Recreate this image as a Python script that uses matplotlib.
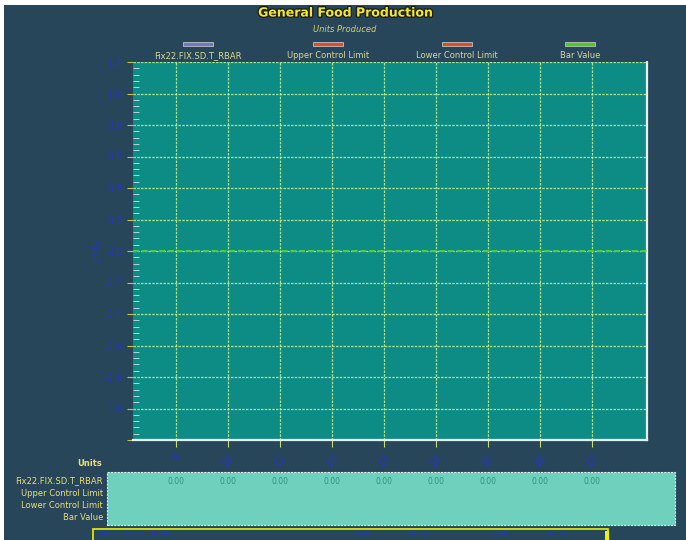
import matplotlib
matplotlib.use("Agg")
import matplotlib.pyplot as plt
from matplotlib.patches import Rectangle
import matplotlib.patheffects as pe

# ---- data ----
sample_labels = ["9", "10", "11", "12", "13", "14", "15", "16", "17"]
rbar_values = [0.00, 0.00, 0.00, 0.00, 0.00, 0.00, 0.00, 0.00, 0.00]
bar_center = 0.0
y_ticks = [1.2, 1.0, 0.8, 0.6, 0.4, 0.2, 0.0, -0.2, -0.4, -0.6, -0.8, -1.0, -1.2]
series_names = ["Fix22.FIX.SD.T_RBAR", "Upper Control Limit", "Lower Control Limit", "Bar Value"]
series_colors = ["#6f78c8", "#d8502a", "#d8502a", "#40d020"]

BG = "#27465a"
PLOT_BG = "#0d8c86"
TABLE_BG = "#6fd1bd"
YELLOW = "#e8e070"
BLUE = "#2438c0"

W, H = 686, 540
fig = plt.figure(figsize=(W / 100, H / 100), dpi=100, facecolor="white")

def fx(px):
    return px / W

def fy(py):
    return 1 - py / H

# dark background with thin white margin on top/left
fig.patches.append(Rectangle((fx(4), 0), 1 - fx(4), fy(5), transform=fig.transFigure,
                             facecolor=BG, edgecolor="none", zorder=-10))

ax = fig.add_axes([fx(133), fy(440), fx(647) - fx(133), fy(62) - fy(440)])
ax.set_facecolor(PLOT_BG)
x = list(range(1, len(sample_labels) + 1))
ax.set_xlim(0.17, 10.06)
ax.set_ylim(-1.2, 1.2)

ax.set_yticks(y_ticks)
ax.set_yticklabels(["" if v == -1.2 else f"{v:.1f}" for v in y_ticks])
ax.set_yticks([v / 100 for v in range(-120, 121, 4)], minor=True)
ax.set_xticks(x)
ax.set_xticklabels(sample_labels, rotation=45)
ax.tick_params(axis="y", which="major", colors="#c8c040", labelcolor=BLUE, labelsize=7,
               length=4, direction="out")
ax.tick_params(axis="y", which="minor", colors="#c8e8e0", length=4, direction="in")
ax.tick_params(axis="x", colors="#c8e070", labelcolor=BLUE, labelsize=7, length=5, pad=4)

ax.grid(True, which="major", color="#c8f090", linestyle=(0, (2, 1)), linewidth=0.9, alpha=0.85)
for s in ["left", "top"]:
    ax.spines[s].set_visible(False)
for s in ["right", "bottom"]:
    ax.spines[s].set_color("#e8f0f0")
    ax.spines[s].set_linestyle((0, (2, 1)))
    ax.spines[s].set_linewidth(1.6)

# bar value centre line
ax.axhline(bar_center, color="#50d030", linestyle=(0, (3, 1.5)), linewidth=1.4, zorder=3)
ax.set_ylabel("Units", color=BLUE, fontsize=7, labelpad=2)

# title
sh = [pe.withStroke(linewidth=2, foreground="#202020")]
fig.text(fx(345), fy(13), "General Food Production", ha="center", va="center",
         color="#f0e830", fontsize=9, fontweight="bold", path_effects=sh)
fig.text(fx(345), fy(30), "Units Produced", ha="center", va="center",
         color="#d8d060", fontsize=6, style="italic")

# legend
leg_x = [198, 328, 457, 580]
for name, col, lx in zip(series_names, series_colors, leg_x):
    fig.patches.append(Rectangle((fx(lx - 15), fy(46)), fx(30), fy(42) - fy(46),
                                 transform=fig.transFigure, facecolor=col,
                                 edgecolor="#c0c0c0", linewidth=0.6))
    fig.text(fx(lx), fy(55.5), name, ha="center", va="center", color="#d8d890", fontsize=6)

# data table
fig.text(fx(102), fy(463), "Units", ha="right", va="center", color=YELLOW, fontsize=6,
         fontweight="bold")
fig.patches.append(Rectangle((fx(107), fy(525)), fx(675) - fx(107), fy(472) - fy(525),
                             transform=fig.transFigure, facecolor=TABLE_BG,
                             edgecolor="#e0f0f0", linewidth=0.8, linestyle=(0, (2, 1))))
row_y = [481, 493, 505, 517]
for name, ry in zip(series_names, row_y):
    fig.text(fx(103), fy(ry), name, ha="right", va="center", color=YELLOW, fontsize=6)
for xi, v in zip(x, rbar_values):
    px = ax.transData.transform((xi, 0))[0]
    fig.text(px / W, fy(481), f"{v:.2f}", ha="center", va="center", color="#309080",
             fontsize=5.5)

# status bar at bottom
fig.patches.append(Rectangle((fx(93), fy(542)), fx(608) - fx(93), fy(529) - fy(542),
                             transform=fig.transFigure, facecolor=BG,
                             edgecolor="#f0f000", linewidth=1.2))
fig.patches.append(Rectangle((fx(605), fy(540)), fx(4), fy(531) - fy(540),
                             transform=fig.transFigure, facecolor="#f0f000",
                             edgecolor="none"))
fig.text(fx(98), fy(534), series_names[0], ha="left", va="center", color=BLUE, fontsize=5)
for sx, txt in zip([362, 418, 500, 556], ["0.00", "00:00", "0.00", "00:00"]):
    fig.text(fx(sx), fy(534), txt, ha="center", va="center", color=BLUE, fontsize=5)

fig.savefig("out.png", dpi=100, facecolor=fig.get_facecolor())
